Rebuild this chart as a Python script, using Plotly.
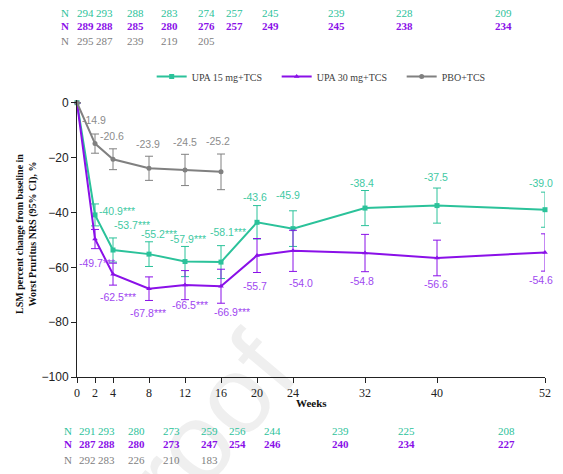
import plotly.graph_objects as go

# ---- data ----
weeks = [0, 2, 4, 8, 12, 16, 20, 24, 32, 40, 52]
pbo_weeks = [0, 2, 4, 8, 12, 16]

upa15 = [0, -40.9, -53.7, -55.2, -57.9, -58.1, -43.6, -45.9, -38.4, -37.5, -39.0]
upa30 = [0, -49.7, -62.5, -67.8, -66.5, -66.9, -55.7, -54.0, -54.8, -56.6, -54.6]
pbo = [0, -14.9, -20.6, -23.9, -24.5, -25.2]

upa15_ci = [0, 4.0, 4.4, 4.5, 5.5, 6.0, 6.1, 6.5, 6.4, 6.4, 6.4]
upa30_ci = [0, 3.5, 4.0, 4.3, 5.3, 6.2, 6.2, 7.5, 6.8, 6.5, 6.8]
pbo_ci = [0, 3.5, 3.8, 4.4, 5.7, 6.5]

upa15_lbl = ["", "-40.9***", "-53.7***", "-55.2***", "-57.9***", "-58.1***",
             "-43.6", "-45.9", "-38.4", "-37.5", "-39.0"]
upa30_lbl = ["", "-49.7***", "-62.5***", "-67.8***", "-66.5***", "-66.9***",
             "-55.7", "-54.0", "-54.8", "-56.6", "-54.6"]
pbo_lbl = ["", "-14.9", "-20.6", "-23.9", "-24.5", "-25.2"]

n_top_upa15 = ["294", "293", "288", "283", "274", "257", "245", "239", "228", "209"]
n_top_upa30 = ["289", "288", "285", "280", "276", "257", "249", "245", "238", "234"]
n_top_pbo = ["295", "287", "239", "219", "205"]
n_bot_upa15 = ["291", "293", "280", "273", "259", "256", "244", "239", "225", "208"]
n_bot_upa30 = ["287", "288", "280", "273", "247", "254", "246", "240", "234", "227"]
n_bot_pbo = ["292", "283", "226", "210", "183"]

ytick_vals = [0, -20, -40, -60, -80, -100]
xtick_vals = weeks

names = ["UPA 15 mg+TCS", "UPA 30 mg+TCS", "PBO+TCS"]

# ---- styling / layout positions ----
TEAL, TEAL_T = "#2bc29a", "#3fc9a3"
PURP, PURP_T = "#8a10e8", "#a048f0"
GRAY, GRAY_T = "#808080", "#8c8c8c"

W, H = 563, 474
L, R = 77, 547           # plot area pixels
Y0PIX, Y100PIX = 102.7, 377.5
YMAX = 1.0
ppu = (Y100PIX - Y0PIX) / 100.0
TOP = Y0PIX - YMAX * ppu
BOT = Y100PIX

upa15_off = [(0, 0), (22, -4), (19, -25), (10, -20), (3, -23), (7, -30),
             (-2, -25), (-5, -34), (-3, -25), (-1, -29), (-4, -27)]
upa30_off = [(0, 0), (2, 24), (5, 23), (-1, 24), (5, 20), (11, 26),
             (-2, 30), (8, 32), (-3, 28), (-1, 26), (-4, 28)]
pbo_off = [(0, 0), (-1, -24), (-1, -23), (-1, -24), (0, -28), (-3, -31)]

top_cols = [86, 105, 136, 170, 207, 235, 271, 338, 406, 505]
bot_cols = [88, 107, 137, 172, 210, 238, 273, 342, 408, 508]


def px(x):
    return (x - L) / (R - L)


def py(y):
    return (BOT - y) / (BOT - TOP)


fig = go.Figure()

series = [
    (weeks, upa15, upa15_ci, TEAL, "square", names[0]),
    (weeks, upa30, upa30_ci, PURP, "triangle-up", names[1]),
    (pbo_weeks, pbo, pbo_ci, GRAY, "circle", names[2]),
]
for xs, ys, ci, col, sym, nm in series:
    fig.add_trace(go.Scatter(
        x=xs, y=ys, name=nm, mode="lines+markers",
        line=dict(color=col, width=2),
        marker=dict(color=col, size=5, symbol=sym),
        error_y=dict(type="data", array=ci, visible=True, color=col,
                     thickness=1, width=4),
        cliponaxis=False,
    ))

annots = []
for xs, ys, lbls, offs, col in [
    (weeks, upa15, upa15_lbl, upa15_off, TEAL_T),
    (weeks, upa30, upa30_lbl, upa30_off, PURP_T),
    (pbo_weeks, pbo, pbo_lbl, pbo_off, GRAY_T),
]:
    for x, y, t, (dx, dy) in zip(xs, ys, lbls, offs):
        if not t:
            continue
        annots.append(dict(x=x, y=y, xref="x", yref="y", text=t,
                           showarrow=False, xshift=dx, yshift=-dy,
                           xanchor="center", yanchor="middle",
                           font=dict(family="Liberation Sans", size=10.5,
                                     color=col)))

serif = "Liberation Serif"
rows = [
    (13, 65, top_cols, n_top_upa15, TEAL, False),
    (26, 65, top_cols, n_top_upa30, PURP, True),
    (41, 65, top_cols, n_top_pbo, GRAY, False),
    (432, 68, bot_cols, n_bot_upa15, TEAL, False),
    (445, 68, bot_cols, n_bot_upa30, PURP, True),
    (461, 68, bot_cols, n_bot_pbo, GRAY, False),
]
for ypix, nx, cols, vals, col, bold in rows:
    wrap = (lambda s: f"<b>{s}</b>") if bold else (lambda s: s)
    for cx, v in [(nx, "N")] + list(zip(cols, vals)):
        annots.append(dict(x=px(cx), y=py(ypix), xref="paper", yref="paper",
                           text=wrap(v), showarrow=False,
                           xanchor="center", yanchor="middle",
                           font=dict(family=serif, size=11, color=col)))

annots.append(dict(x=px(313), y=py(404), xref="paper", yref="paper",
                   text="<b>Weeks</b>", showarrow=False,
                   xanchor="center", yanchor="middle",
                   font=dict(family=serif, size=11, color="#111111")))
annots.append(dict(x=px(27), y=py(234), xref="paper", yref="paper",
                   text="<b>LSM percent change from baseline in<br>Worst Pruritus NRS (95% CI), %</b>",
                   showarrow=False, textangle=-90,
                   xanchor="center", yanchor="middle",
                   font=dict(family=serif, size=10, color="#111111")))

fig.update_layout(
    width=W, height=H,
    margin=dict(l=L, r=W - R, t=TOP, b=H - BOT, pad=0),
    paper_bgcolor="white", plot_bgcolor="white",
    showlegend=True,
    legend=dict(orientation="h", x=px(152), y=py(62), xanchor="left",
                yanchor="top", font=dict(family=serif, size=10, color="#404040"),
                bgcolor="rgba(0,0,0,0)", tracegroupgap=0,
                entrywidth=80, entrywidthmode="pixels"),
    annotations=annots,
    shapes=[dict(type="rect", xref="paper", yref="paper",
                 x0=px(95), x1=px(265), y0=py(530), y1=py(360),
                 line=dict(width=0), fillcolor="rgba(0,0,0,0)", layer="below",
                 label=dict(text="Proof", textangle=-50,
                            font=dict(family="Liberation Sans", size=110,
                                      color="#efefef")))],
    xaxis=dict(range=[0, 52], tickvals=xtick_vals, showline=True,
               linecolor="#222222", linewidth=1, ticks="outside", ticklen=5,
               tickcolor="#222222", showgrid=False, zeroline=False,
               tickfont=dict(family=serif, size=12, color="#222222")),
    yaxis=dict(range=[-100, YMAX], tickvals=ytick_vals, showline=True,
               linecolor="#222222", linewidth=1, ticks="outside", ticklen=5,
               tickcolor="#222222", showgrid=False, zeroline=False,
               tickfont=dict(family="Liberation Sans", size=12, color="#222222")),
)

fig.write_html("out.html", config={"displayModeBar": False},
               post_script="document.body.style.margin='0px';")
